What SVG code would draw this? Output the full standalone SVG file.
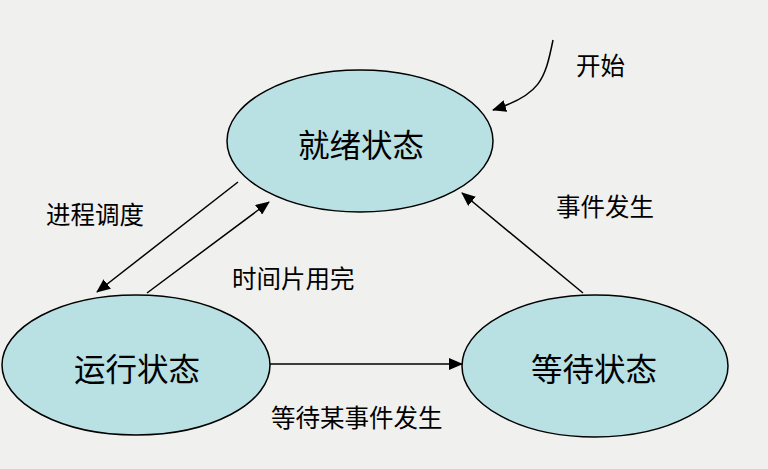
<svg xmlns="http://www.w3.org/2000/svg" width="768" height="469" viewBox="0 0 768 469">
<defs>
<marker id="ah" markerUnits="userSpaceOnUse" markerWidth="14" markerHeight="12" refX="13" refY="6" orient="auto">
<path d="M0,0 L14,6 L0,12 Z" fill="#000"/>
</marker>
<style>
.node{fill:#b9e0e3;stroke:#000;stroke-width:1.5}
.big{font-family:"Noto Sans CJK SC",sans-serif;font-size:31.5px;fill:#000;text-anchor:middle;dominant-baseline:central}
.lbl{font-family:"Noto Sans CJK SC",sans-serif;font-size:24.5px;fill:#000;dominant-baseline:central}
.edge{fill:none;stroke:#000;stroke-width:1.5;marker-end:url(#ah)}
</style>
</defs>
<rect width="768" height="469" fill="#f0f0ee"/>
<g id="ready">
<ellipse class="node" cx="360" cy="141" rx="133" ry="71"/>
<text class="big" x="361" y="143">就绪状态</text>
</g>
<g id="running">
<ellipse class="node" cx="136" cy="365" rx="134" ry="70"/>
<text class="big" x="137" y="367">运行状态</text>
</g>
<g id="waiting">
<ellipse class="node" cx="595" cy="366" rx="133" ry="71"/>
<text class="big" x="594" y="367">等待状态</text>
</g>
<g id="connectors">
<path class="edge" d="M553,40 C545,80 540,95 493,110"/>
<line class="edge" x1="238" y1="182" x2="97" y2="292"/>
<line class="edge" x1="147" y1="293" x2="269" y2="202"/>
<line class="edge" x1="583" y1="293" x2="462" y2="193"/>
<line class="edge" x1="270" y1="364" x2="462" y2="364"/>
</g>
<g id="labels">
<text class="lbl" x="576" y="64">开始</text>
<text class="lbl" x="46" y="213">进程调度</text>
<text class="lbl" x="232" y="277">时间片用完</text>
<text class="lbl" x="556" y="205">事件发生</text>
<text class="lbl" x="271" y="416">等待某事件发生</text>
</g>
</svg>
